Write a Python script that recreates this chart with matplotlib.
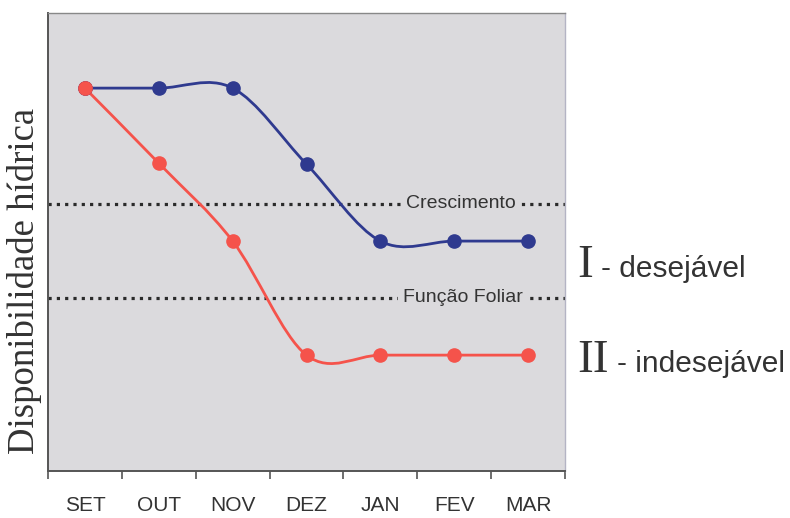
import numpy as np
import matplotlib
matplotlib.use("Agg")
import matplotlib.pyplot as plt
from matplotlib.path import Path
from matplotlib.patches import PathPatch

months = ["SET", "OUT", "NOV", "DEZ", "JAN", "FEV", "MAR"]
desejavel = [8.36, 8.36, 8.36, 6.70, 5.02, 5.02, 5.02]
indesejavel = [8.36, 6.72, 5.02, 2.53, 2.53, 2.53, 2.53]
crescimento = 5.83
funcao_foliar = 3.78

BLUE = "#2f3a8f"
RED = "#f5534b"
BG = "#dbdadd"
TXT = "#333333"

def smooth_path(xs, ys):
    xs = np.asarray(xs, float); ys = np.asarray(ys, float)
    n = len(xs)
    verts = [(xs[0], ys[0])]
    codes = [Path.MOVETO]
    for i in range(n - 1):
        p0 = np.array([xs[max(i - 1, 0)], ys[max(i - 1, 0)]])
        p1 = np.array([xs[i], ys[i]])
        p2 = np.array([xs[i + 1], ys[i + 1]])
        p3 = np.array([xs[min(i + 2, n - 1)], ys[min(i + 2, n - 1)]])
        c1 = p1 + (p2 - p0) / 6.0
        c2 = p2 - (p3 - p1) / 6.0
        verts += [tuple(c1), tuple(c2), tuple(p2)]
        codes += [Path.CURVE4] * 3
    return Path(verts, codes)

fig = plt.figure(figsize=(7.9, 5.18), dpi=100)
ax = fig.add_axes([48 / 790, 47 / 518, (565 - 48) / 790, (471 - 13) / 518])
ax.set_facecolor(BG)
x = np.arange(len(months))
ax.set_xlim(-0.5, len(months) - 0.5)
ax.set_ylim(0, 10)

# dotted reference lines
for yv in (crescimento, funcao_foliar):
    ax.axhline(yv, color="#2a2a2a", lw=2.3, linestyle=(0, (1, 1.6)), zorder=2)

ax.text(5.09, crescimento, "Crescimento", ha="center", va="center", fontsize=14,
        color=TXT, family="Liberation Sans",
        bbox=dict(boxstyle="square,pad=0.28", fc=BG, ec="none"), zorder=3)
ax.text(5.12, funcao_foliar, "Função Foliar", ha="center", va="center", fontsize=14,
        color=TXT, family="Liberation Sans",
        bbox=dict(boxstyle="square,pad=0.28", fc=BG, ec="none"), zorder=3)

for ys, col in ((indesejavel, RED), (desejavel, BLUE)):
    ax.add_patch(PathPatch(smooth_path(x, ys), fc="none", ec=col, lw=2.0, zorder=4))
    ax.plot(x, ys, "o", color=col, ms=9.5, zorder=5, mec=col)
# first point red on top
ax.plot(x[:1], indesejavel[:1], "o", color=RED, ms=9.5, zorder=6)

ax.set_xticks(np.arange(-0.5, len(months)), minor=False)
ax.set_xticklabels([])
ax.set_xticks(x, minor=True)
ax.set_xticklabels(months, minor=True, fontsize=15, color=TXT, family="Liberation Sans")
ax.tick_params(axis="x", which="major", length=6, width=1.2, color="#555555", direction="out")
ax.tick_params(axis="x", which="minor", length=0, pad=18)
ax.set_yticks([])

for s in ("left", "bottom"):
    ax.spines[s].set_color("#555555")
    ax.spines[s].set_linewidth(1.4)
for s in ("top", "right"):
    ax.spines[s].set_color("#b4b4c4")
    ax.spines[s].set_linewidth(1.0)
ax.spines["top"].set_color("#888888")

fig.text(25 / 790, 1 - 281 / 518, "Disponibilidade hídrica", rotation=90, ha="center",
         va="center", fontsize=26.5, family="Liberation Serif", color=TXT)

fig.text(577 / 790, 1 - 277 / 518, "I", fontsize=34, family="Liberation Serif",
         color=TXT, ha="left", va="baseline")
fig.text(601 / 790, 1 - 277 / 518, "- desejável", fontsize=21.5, family="Liberation Sans",
         color=TXT, ha="left", va="baseline")
fig.text(577 / 790, 1 - 372 / 518, "II", fontsize=34, family="Liberation Serif",
         color=TXT, ha="left", va="baseline")
fig.text(617 / 790, 1 - 372 / 518, "- indesejável", fontsize=21.5, family="Liberation Sans",
         color=TXT, ha="left", va="baseline")

fig.savefig("out.png", dpi=100)
